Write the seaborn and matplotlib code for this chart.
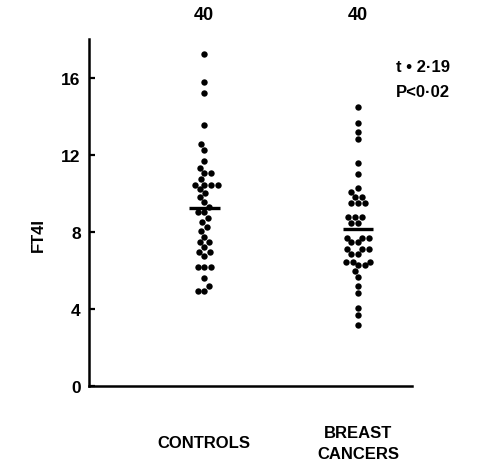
import matplotlib
matplotlib.use("Agg")
import matplotlib.pyplot as plt
import seaborn as sns
import pandas as pd

groups = ["CONTROLS", "BREAST\nCANCERS"]
counts = ["40", "40"]
controls = [17.2, 15.75, 15.2, 13.55, 12.55, 12.25, 11.65, 11.3, 11.05, 11.05,
            10.75, 10.45, 10.45, 10.45, 10.45, 10.2, 10.0, 9.8, 9.55, 9.3,
            9.05, 9.05, 8.7, 8.5, 8.25, 8.05, 7.75, 7.45, 7.45, 7.2,
            6.95, 6.95, 6.75, 6.15, 6.15, 6.15, 5.6, 5.2, 4.95, 4.95]
cancers = [14.45, 13.65, 13.2, 12.8, 11.55, 11.0, 10.25, 10.05, 9.8, 9.8,
           9.5, 9.5, 9.5, 8.75, 8.75, 8.75, 8.45, 8.45, 7.7, 7.7,
           7.7, 7.45, 7.45, 7.1, 7.1, 7.1, 6.85, 6.85, 6.45, 6.45,
           6.45, 6.25, 6.25, 5.95, 5.65, 5.2, 4.8, 4.05, 3.7, 3.15]
means = [9.25, 8.15]
yticks = [0, 4, 8, 12, 16]
stats_text = "t • 2·19\nP<0·02"

df = pd.DataFrame({
    "group": [groups[0]] * len(controls) + [groups[1]] * len(cancers),
    "FT4I": controls + cancers,
})

sns.set_style("white")
plt.rcParams["font.family"] = ["Liberation Sans", "DejaVu Sans"]
plt.rcParams["font.weight"] = "bold"
plt.rcParams["text.color"] = "black"
plt.rcParams["ytick.color"] = "black"
plt.rcParams["ytick.labelcolor"] = "black"

fig = plt.figure(figsize=(4.8, 4.64), dpi=100)
ax = fig.add_axes([0.1854, 0.166, 0.858 - 0.1854, 0.9138 - 0.166])

sns.swarmplot(data=df, x="group", y="FT4I", order=groups, color="black",
              size=4.6, ax=ax, linewidth=0)

for i, m in enumerate(means):
    ax.plot([i - 0.1, i + 0.1], [m, m], color="black", lw=2.4, solid_capstyle="butt")

ax.set_xlim(-0.75, 1.35)
ax.set_ylim(0, 18)
ax.set_yticks(yticks)
ax.set_yticklabels([str(v) for v in yticks], fontsize=12.5, fontweight="bold",
                   color="black")
ax.tick_params(axis="y", direction="in", length=4, width=1.6, pad=6, left=True,
               colors="black")
ax.tick_params(axis="x", bottom=False, labelbottom=False)
ax.set_xlabel("")
ax.set_ylabel("")

for s in ["top", "right"]:
    ax.spines[s].set_visible(False)
for s in ["left", "bottom"]:
    ax.spines[s].set_linewidth(1.8)
    ax.spines[s].set_color("black")

trans = ax.get_xaxis_transform()
for i, g in enumerate(groups):
    ax.text(i, -0.164, g, transform=trans, ha="center", va="center",
            fontsize=12, fontweight="bold", linespacing=1.45, color="black")
    ax.text(i, 1.072, counts[i], transform=trans, ha="center", va="center",
            fontsize=13, fontweight="bold", color="black")

fig.text(396 / 480, 1 - 80 / 464, stats_text, ha="left", va="center",
         fontsize=12, fontweight="bold", linespacing=1.8, color="black")
fig.text(38 / 480, 1 - 235 / 464, "FT4I", rotation=90, ha="center", va="center",
         fontsize=12, fontweight="bold", color="black")

fig.savefig("out.png", dpi=100)
